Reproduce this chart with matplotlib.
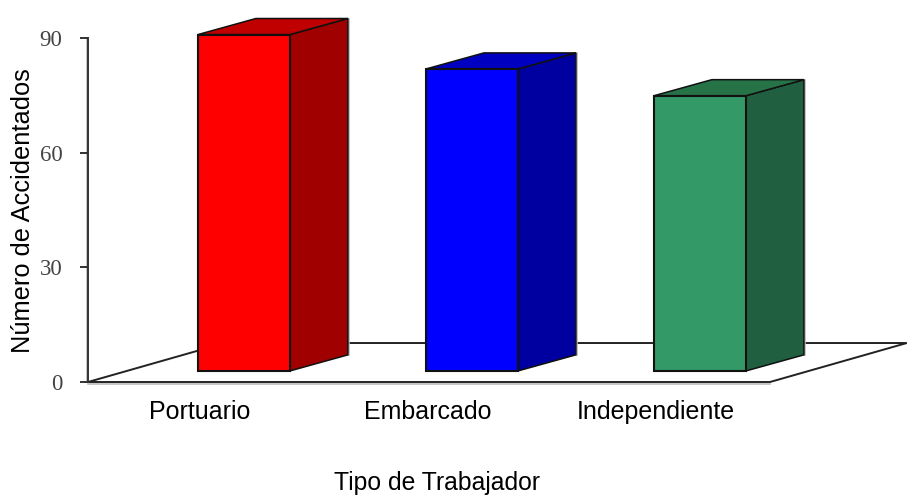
import matplotlib
matplotlib.use('Agg')
import matplotlib.pyplot as plt
from matplotlib.patches import Polygon

categories = ['Portuario', 'Embarcado', 'Independiente']
accidents = [88, 79, 72]
y_ticks = [0, 30, 60, 90]
front_colors = ['#FF0000', '#0000FF', '#339966']
side_colors = ['#A00000', '#0000A0', '#206040']
top_colors = ['#C00000', '#0000C0', '#267348']

# sizes of the fake 3D look, in data units (1 category = 228px, 1 accident = 3.82px)
bar_w = 0.4035
bar_dx, bar_dy = 0.254, 4.2
floor_dx, floor_dy = 0.60, 10.2
base = 2.9
label_shift = 0.193

fig = plt.figure(figsize=(9.07, 4.95), dpi=100)
ax = fig.add_axes([88 / 907, 113 / 495, 682 / 907, 344 / 495])
ax.set_xlim(-0.684, 2.307)
ax.set_ylim(0, 90)

x0, x1 = ax.get_xlim()

# floor
floor = [(x0, 0), (x1, 0), (x1 + floor_dx, floor_dy), (x0 + floor_dx, floor_dy)]
ax.add_patch(Polygon(floor, closed=True, facecolor='white', edgecolor='#222222',
                     linewidth=1.4, clip_on=False, zorder=1))
# soft grey shadow under the floor edge and beside the axis
ax.plot([x0, x1], [-0.5, -0.5], color='#BBBBBB', linewidth=1.2, clip_on=False, zorder=0.5)
ax.plot([x0 - 0.006, x0 - 0.006], [0, 90], color='#BBBBBB', linewidth=1.2, clip_on=False, zorder=0.5)

# bars
for i in range(len(categories)):
    left = i - bar_w / 2
    right = i + bar_w / 2
    top = base + accidents[i]
    # shadow on the right of the side face
    ax.plot([right + bar_dx + 0.006] * 2, [base + bar_dy, top + bar_dy], color='#BBBBBB',
            linewidth=1.2, clip_on=False, zorder=2)
    ax.add_patch(Polygon([(right, base), (right + bar_dx, base + bar_dy),
                          (right + bar_dx, top + bar_dy), (right, top)],
                         closed=True, facecolor=side_colors[i], edgecolor='#111111',
                         linewidth=1.1, clip_on=False, zorder=3))
    ax.add_patch(Polygon([(left, top), (right, top), (right + bar_dx, top + bar_dy),
                          (left + bar_dx, top + bar_dy)],
                         closed=True, facecolor=top_colors[i], edgecolor='#111111',
                         linewidth=1.1, clip_on=False, zorder=3))
    ax.add_patch(Polygon([(left, base), (right, base), (right, top), (left, top)],
                         closed=True, facecolor=front_colors[i], edgecolor='#111111',
                         linewidth=1.5, clip_on=False, zorder=4))

for s in ['top', 'right', 'bottom']:
    ax.spines[s].set_visible(False)
ax.spines['left'].set_linewidth(1.4)
ax.spines['left'].set_color('#333333')
ax.patch.set_visible(False)

ax.set_yticks(y_ticks)
ax.set_yticklabels([str(v) for v in y_ticks], family='Liberation Serif', fontsize=16.5, color='#444444')
ax.tick_params(axis='y', length=6, width=1.3, color='#222222', pad=12.5)
ax.set_xticks([i - label_shift for i in range(len(categories))])
ax.set_xticklabels(categories, family='Liberation Sans', fontsize=18)
ax.tick_params(axis='x', length=0, pad=13)

ax.set_ylabel('Número de Accidentados', family='Liberation Sans', fontsize=18.3)
ax.yaxis.set_label_coords(-0.077, 0.499)
ax.set_xlabel('Tipo de Trabajador', family='Liberation Sans', fontsize=17.8)
ax.xaxis.set_label_coords(0.512, -0.258)

fig.savefig('out.png', dpi=100)
